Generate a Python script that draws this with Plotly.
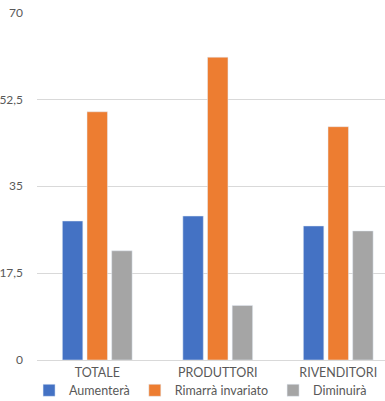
import plotly.graph_objects as go

categories = ["TOTALE", "PRODUTTORI", "RIVENDITORI"]
aumentera = [28, 29, 27]
rimarra = [50, 61, 47]
diminuira = [22, 11, 26]
tick_vals = [0, 17.5, 35, 52.5, 70]
tick_text = ["0", "17,5", "35", "52,5", "70"]

font = dict(family="Lato, Open Sans, sans-serif", size=12, color="#595959")

fig = go.Figure()
fig.add_bar(x=categories, y=aumentera, name="Aumenterà", marker_color="#4472C4")
fig.add_bar(x=categories, y=rimarra, name="Rimarrà invariato", marker_color="#ED7D31")
fig.add_bar(x=categories, y=diminuira, name="Diminuirà", marker_color="#A5A5A5")

fig.update_layout(
    width=385, height=401,
    margin=dict(l=37, r=0, t=12, b=41, autoexpand=False),
    paper_bgcolor="white", plot_bgcolor="white",
    font=font,
    barmode="group", bargap=0.386, bargroupgap=0.17,
    showlegend=True,
    legend=dict(orientation="h", x=0.47, xanchor="center", y=-0.045, yanchor="top",
                itemwidth=30, bgcolor="rgba(0,0,0,0)",
                font=dict(size=12.5, color="#595959"), traceorder="normal"),
    xaxis=dict(range=[-0.5, 2.388], showgrid=False, showline=False, ticks="",
               automargin=False, ticklabelstandoff=3,
               tickfont=dict(size=12.5, color="#595959")),
    yaxis=dict(range=[0, 70.1], tickvals=tick_vals, ticktext=tick_text,
               showgrid=True, gridcolor="#D9D9D9", gridwidth=1,
               zeroline=True, zerolinecolor="#D9D9D9", zerolinewidth=1,
               showline=False, ticks="", ticklabelstandoff=13, automargin=False,
               tickfont=dict(size=12, color="#595959")),
)

fig.write_html("out.html", config={"displayModeBar": False},
               post_script="document.body.style.margin='0';")
